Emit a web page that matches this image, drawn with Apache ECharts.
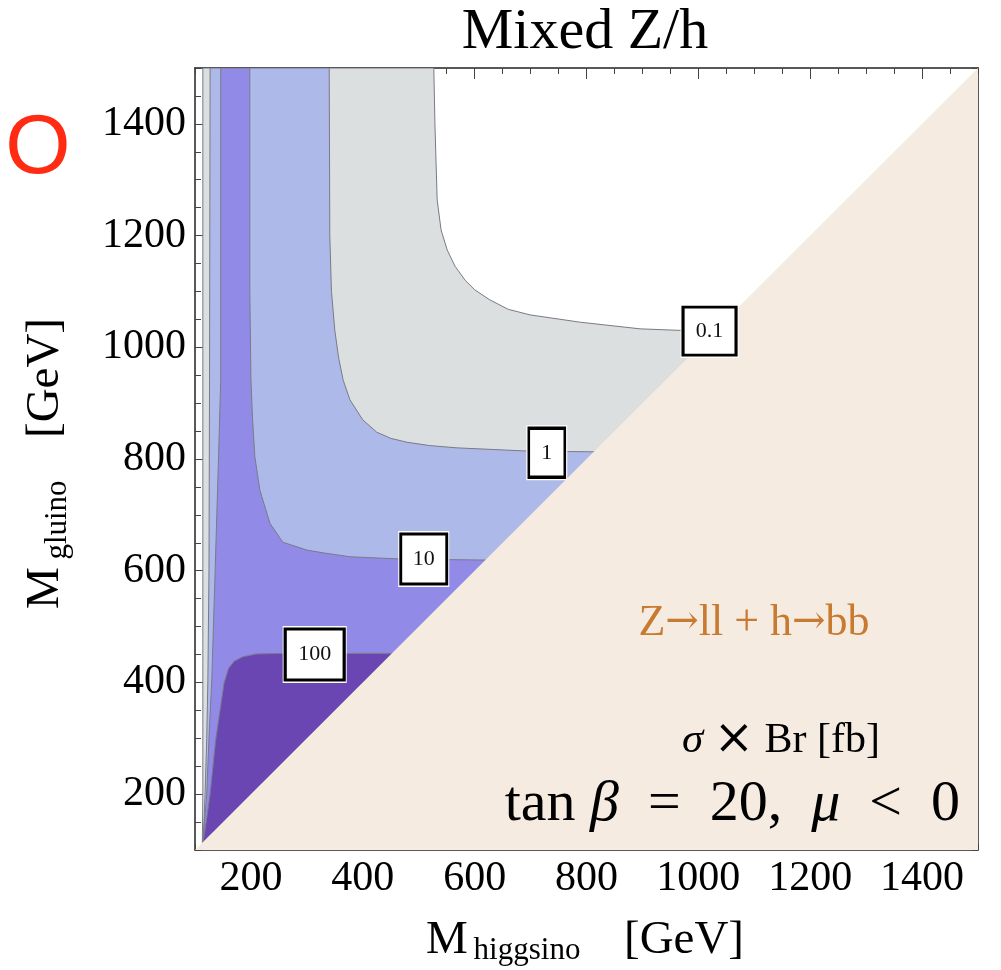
<!DOCTYPE html>
<html><head><meta charset="utf-8">
<script src="https://cdn.jsdelivr.net/npm/echarts@6/dist/echarts.min.js"></script>
<style>html,body{margin:0;padding:0;background:#fff}#c{width:1001px;height:970px}</style>
</head><body><div id="c"></div>
<script>
// ---- data (GeV) ----
const axisMin = 100, axisMax = 1500;
const xTicks = [200, 400, 600, 800, 1000, 1200, 1400];
const yTicks = [200, 400, 600, 800, 1000, 1200, 1400];

// left boundaries of each contour region (bottom -> top)
const left01  = [[113,100],[114,200],[114,800],[114,1500]];
const left1   = [[113,100],[114,108],[116,150],[118,200],[121,300],[123,404],[125,600],[126,941],[127,1500]];
const left10  = [[113,100],[114,112],[117,150],[121,200],[125,300],[130,404],[136,600],[142,800],[146,941],[146,1500]];
const left100 = [[113,100],[114,112],[120,150],[127,200],[137,297],[152,399],[160,425],[170,438],[186,446],[210,451]];

// upper / right boundaries of each contour (top -> right)
const contour01  = [[527,1500],[529,1400],[533,1264],[540,1210],[551,1174],[565,1145],[583,1120],[600,1103],[627,1085],[660,1068],[699,1058],[788,1045],[896,1033],[1000,1029],[1500,1025]];
const contour1   = [[340,1500],[341,1200],[344,1100],[350,1030],[357,980],[365,941],[377,906],[400,870],[425,848],[450,837],[479,830],[520,824],[568,820],[699,814],[900,812],[1500,810]];
const contour10  = [[198,1500],[198,1100],[200,941],[203,870],[207,804],[216,744],[234,685],[257,651],[300,637],[329,632],[377,625],[467,621],[622,619],[1500,618]];
const contour100 = [[260,452],[1500,452]];

// contour level labels
const levelLabels = ['0.1', '1', '10', '100'];
const labelX = [1020, 729, 509, 314];
const labelY = [1029, 811, 621, 450];

// ---- styles ----
const regionColors = ['#dcdfdf', '#adb9e8', '#918ae6', '#6a46b2'];
const boxSize = [[53,48],[36,49],[46,50],[59,51]];
const lineColor = '#7a7a88';
const serif = 'Liberation Serif';

const regions = [
  left01.concat(contour01),
  left1.concat(contour1),
  left10.concat(contour10),
  left100.concat(contour100)
];

function polySeries(points, fill, stroke) {
  return {
    type: 'custom', coordinateSystem: 'cartesian2d', silent: true, animation: false,
    clip: true, z: 2,
    data: [[points[0][0], points[0][1]]],
    renderItem: function (params, api) {
      return {
        type: 'polygon',
        shape: { points: points.map(p => api.coord(p)) },
        style: stroke ? { fill: fill, stroke: stroke, lineWidth: 1 } : { fill: fill }
      };
    }
  };
}

const series = [];
regions.forEach((r, i) => {
  series.push(polySeries(r.concat([[axisMax, axisMin]]), regionColors[i], lineColor));
});
// kinematically forbidden region (higgsino heavier than gluino)
series.push(polySeries([[axisMin, axisMin], [axisMax, axisMin], [axisMax, axisMax]], '#f5ebe1', null));

series.push({
  type: 'scatter', symbol: 'rect', silent: true, animation: false, z: 5,
  data: levelLabels.map((t, i) => ({ value: [labelX[i], labelY[i]], symbolSize: [boxSize[i][0] + 5, boxSize[i][1] + 6] })),
  itemStyle: { color: '#ffffff', opacity: 1 }
});
series.push({
  type: 'scatter', symbol: 'rect', silent: true, animation: false, z: 6,
  data: levelLabels.map((t, i) => ({ value: [labelX[i], labelY[i]], symbolSize: boxSize[i] })),
  itemStyle: { color: '#ffffff', borderColor: '#000', borderWidth: 3, opacity: 1 },
  label: { show: true, position: 'inside', formatter: p => levelLabels[p.dataIndex],
    color: '#111', fontFamily: serif, fontSize: 22 }
});

function mkAxis(pos, major, withLabel, ticks) {
  const a = {
    type: 'value', position: pos, min: axisMin, max: axisMax,
    splitLine: { show: false },
    axisLine: { show: !major, onZero: false, lineStyle: { color: '#222', width: 1.5 } },
    axisTick: { show: true, inside: true, length: major ? 11 : 6, lineStyle: { color: '#444', width: 1 } },
    axisLabel: { show: false }
  };
  if (major) {
    a.axisTick.customValues = ticks;
  } else {
    a.interval = 50;
  }
  if (withLabel) {
    a.axisLabel = {
      show: true, customValues: ticks,
      formatter: v => (ticks.indexOf(v) >= 0 ? String(v) : ''),
      fontFamily: serif, fontSize: 42, color: '#000',
      margin: (pos === 'bottom') ? 8 : 9
    };
  }
  return a;
}

const txt = (o) => Object.assign({ type: 'text', z: 100 }, o);
const C = { align: 'center', verticalAlign: 'middle', textAlign: 'center', textVerticalAlign: 'middle' };

const option = {
  animation: false,
  backgroundColor: '#ffffff',
  grid: { left: 195, right: 23, top: 68, bottom: 120, containLabel: false },
  xAxis: [
    mkAxis('bottom', false, true, xTicks),
    mkAxis('bottom', true, false, xTicks),
    mkAxis('top', false, false, xTicks),
    mkAxis('top', true, false, xTicks)
  ],
  yAxis: [
    mkAxis('left', false, true, yTicks),
    mkAxis('left', true, false, yTicks),
    mkAxis('right', false, false, yTicks),
    mkAxis('right', true, false, yTicks)
  ],
  series: series,
  graphic: { elements: [
    txt({ x: 585, y: 33, style: Object.assign({ text: 'Mixed Z/h', font: '58px "Liberation Serif"', fill: '#000' }, C) }),
    txt({ x: 38, y: 150, style: Object.assign({ text: 'O', font: '84px "Liberation Sans"', fill: '#ff2b12' }, C) }),
    // x axis title
    txt({ x: 447, y: 941, style: Object.assign({ text: 'M', font: '47px "Liberation Serif"', fill: '#000' }, C) }),
    txt({ x: 527, y: 951, style: Object.assign({ text: 'higgsino', font: '31px "Liberation Serif"', fill: '#000' }, C) }),
    txt({ x: 684, y: 941, style: Object.assign({ text: '[GeV]', font: '47px "Liberation Serif"', fill: '#000' }, C) }),
    // y axis title
    txt({ x: 46, y: 588, rotation: Math.PI / 2, style: Object.assign({ text: 'M', font: '47px "Liberation Serif"', fill: '#000' }, C) }),
    txt({ x: 58, y: 520, rotation: Math.PI / 2, style: Object.assign({ text: 'gluino', font: '31px "Liberation Serif"', fill: '#000' }, C) }),
    txt({ x: 46, y: 378, rotation: Math.PI / 2, style: Object.assign({ text: '[GeV]', font: '47px "Liberation Serif"', fill: '#000' }, C) }),
    // annotations
    txt({ x: 754, y: 623, style: Object.assign({
      text: '{t|Z}{a|\u2192}{t|ll + h}{a|\u2192}{t|bb}',
      rich: {
        t: { font: '44px "Liberation Serif"', fill: '#c87a30', color: '#c87a30' },
        a: { font: '40px "DejaVu Serif"', fill: '#c87a30', color: '#c87a30' }
      } }, C) }),
    txt({ x: 781, y: 741, style: Object.assign({
      text: '{s|\u03c3}{n| }{x|\u00d7}{n| Br [fb]}',
      rich: {
        s: { font: 'italic 43px "Liberation Serif"', fill: '#000', color: '#000' },
        x: { font: '48px "DejaVu Serif"', fill: '#000', color: '#000' },
        n: { font: '42px "Liberation Serif"', fill: '#000', color: '#000' }
      } }, C) }),
    txt({ x: 960, y: 805, style: {
      text: '{n|tan }{i|\u03b2}{n|  =  20,  }{i|\u03bc}{n|  <  0}',
      align: 'right', verticalAlign: 'middle', textAlign: 'right', textVerticalAlign: 'middle',
      rich: {
        n: { font: '58px "Liberation Serif"', fill: '#000', color: '#000' },
        i: { font: 'italic 58px "Liberation Serif"', fill: '#000', color: '#000' }
      } } })
  ] }
};

const chart = echarts.init(document.getElementById('c'), null, { renderer: 'canvas' });
chart.setOption(option);
</script>
</body></html>
